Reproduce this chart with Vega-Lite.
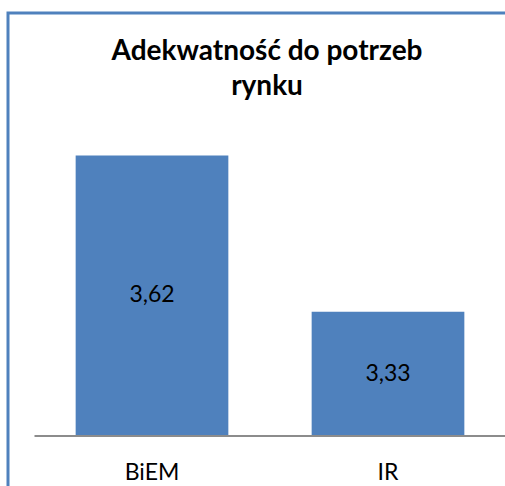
{
  "$schema": "https://vega.github.io/schema/vega-lite/v6.json",
  "autosize": "none",
  "padding": {"left": 8, "top": 13, "right": 0, "bottom": 0},
  "width": 518,
  "height": 520,
  "background": "white",
  "config": {
    "locale": {"number": {"decimal": ",", "thousands": " ", "grouping": [3], "currency": ["", " zł"]}},
    "view": {"stroke": "#4F81BD", "strokeWidth": 3},
    "font": "Lato"
  },
  "title": {
    "text": ["Adekwatność do potrzeb", "rynku"],
    "anchor": "middle",
    "frame": "group",
    "font": "Lato",
    "fontSize": 28,
    "fontWeight": "bold",
    "color": "black",
    "baseline": "alphabetic",
    "lineHeight": 35,
    "dy": 114
  },
  "data": {"values": [
    {"kierunek": "BiEM", "wartosc": 3.62},
    {"kierunek": "IR", "wartosc": 3.33}
  ]},
  "encoding": {
    "x": {
      "field": "kierunek", "type": "nominal", "sort": null, "title": null,
      "scale": {"range": [26, 498], "paddingInner": 0.353, "paddingOuter": 0.1765},
      "axis": {
        "offset": -97.5, "domainColor": "#8c8c8c", "domainWidth": 2, "ticks": false,
        "labelAngle": 0, "labelFont": "Lato", "labelFontSize": 23, "labelColor": "black",
        "labelPadding": 26, "zindex": 1
      }
    }
  },
  "layer": [
    {
      "mark": {"type": "bar", "color": "#4F81BD"},
      "encoding": {
        "y": {"field": "wartosc", "type": "quantitative", "axis": null,
          "scale": {"domain": [3.1, 3.7], "range": [422.5, 99.4], "zero": false, "nice": false}},
        "y2": {"datum": 3.1}
      }
    },
    {
      "mark": {"type": "text", "fontSize": 23, "font": "Lato", "color": "black", "baseline": "middle"},
      "encoding": {
        "y": {"field": "wartosc", "type": "quantitative", "axis": null,
          "scale": {"domain": [3.1, 4.3], "range": [422.5, 99.4], "zero": false, "nice": false}},
        "text": {"field": "wartosc", "type": "quantitative", "format": ".2f"}
      }
    }
  ],
  "resolve": {"scale": {"y": "independent"}}
}
